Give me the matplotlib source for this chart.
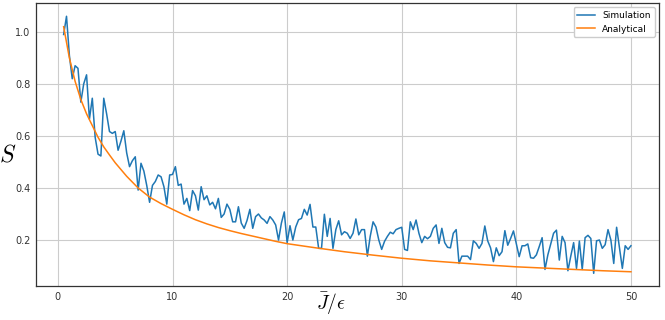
import numpy as np
import matplotlib
matplotlib.use("Agg")
import matplotlib.pyplot as plt

plt.rcParams['mathtext.fontset'] = 'cm'

# Simulation values, x from 0.5 to 50 in steps of 0.25
sim = [
    0.99, 1.06, 0.91, 0.82, 0.87, 0.86, 0.73, 0.80, 0.835, 0.665, 0.745, 0.595,
    0.53, 0.523, 0.745, 0.685, 0.617, 0.61, 0.617, 0.545, 0.58, 0.62, 0.535, 0.482,
    0.505, 0.52, 0.392, 0.495, 0.465, 0.41, 0.345, 0.41, 0.425, 0.45, 0.443, 0.405,
    0.338, 0.45, 0.452, 0.482, 0.41, 0.415, 0.338, 0.36, 0.313, 0.39, 0.37, 0.315,
    0.405, 0.355, 0.37, 0.335, 0.345, 0.32, 0.36, 0.287, 0.30, 0.338, 0.318, 0.27,
    0.27, 0.328, 0.265, 0.245, 0.275, 0.318, 0.245, 0.29, 0.30, 0.285, 0.277, 0.264,
    0.29, 0.277, 0.258, 0.20, 0.265, 0.308, 0.19, 0.255, 0.20, 0.25, 0.278, 0.283,
    0.318, 0.296, 0.337, 0.25, 0.25, 0.168, 0.168, 0.299, 0.214, 0.283, 0.168, 0.24,
    0.274, 0.22, 0.232, 0.226, 0.206, 0.226, 0.281, 0.22, 0.24, 0.24, 0.138, 0.214,
    0.27, 0.25, 0.20, 0.164, 0.195, 0.214, 0.23, 0.224, 0.24, 0.245, 0.249, 0.164,
    0.16, 0.27, 0.24, 0.277, 0.226, 0.19, 0.214, 0.205, 0.214, 0.245, 0.258, 0.187,
    0.245, 0.19, 0.172, 0.17, 0.226, 0.24, 0.11, 0.138, 0.138, 0.138, 0.125, 0.197,
    0.187, 0.168, 0.187, 0.254, 0.197, 0.17, 0.117, 0.17, 0.14, 0.155, 0.236, 0.18,
    0.206, 0.235, 0.185, 0.136, 0.178, 0.178, 0.185, 0.132, 0.13, 0.143, 0.175, 0.209,
    0.087, 0.143, 0.185, 0.226, 0.238, 0.123, 0.214, 0.19, 0.082, 0.138, 0.19, 0.091,
    0.196, 0.087, 0.209, 0.218, 0.206, 0.072, 0.197, 0.20, 0.168, 0.182, 0.24, 0.20,
    0.11, 0.249, 0.17, 0.091, 0.178, 0.164, 0.178,
]

# Analytical curve, read at selected points
ana_x = [0.5, 1.0, 1.5, 2.0, 2.5, 3.0, 3.5, 4.0, 4.5, 5.0, 6.0, 7.0, 8.0, 9.0,
         10.0, 11.0, 12.0, 13.0, 14.0, 15.0, 16.0, 17.0, 18.0, 19.0, 20.0,
         22.5, 25.0, 27.5, 30.0, 32.5, 35.0, 37.5, 40.0, 42.5, 45.0, 47.5, 50.0]
ana_y = [1.02, 0.90, 0.81, 0.74, 0.685, 0.64, 0.595, 0.558, 0.527, 0.497, 0.445,
         0.40, 0.365, 0.34, 0.318, 0.297, 0.278, 0.262, 0.248, 0.236, 0.225,
         0.215, 0.205, 0.195, 0.186, 0.17, 0.155, 0.142, 0.13, 0.12, 0.112,
         0.104, 0.097, 0.092, 0.087, 0.082, 0.078]

xticks = [0, 10, 20, 30, 40, 50]
yticks = [0.2, 0.4, 0.6, 0.8, 1.0]

sim_x = np.linspace(0.5, 50, len(sim))

fig = plt.figure(figsize=(6.65, 3.2), dpi=100)
ax = fig.add_axes([0.054, 0.106, 0.937, 0.885])
ax.plot(sim_x, sim, color='#1f77b4', lw=1.1, label='Simulation')
ax.plot(ana_x, ana_y, color='#ff7f0e', lw=1.1, label='Analytical')
ax.set_xlim(-1.92, 52.45)
ax.set_ylim(0.023, 1.1115)
ax.set_xticks(xticks)
ax.set_yticks(yticks)
ax.grid(True, color='#cccccc', lw=0.8)
ax.tick_params(labelsize=7, length=0, pad=4, colors='#333333')
for s in ax.spines.values():
    s.set_color('#333333')
    s.set_linewidth(0.9)
ax.set_xlabel(r'$\bar{J}/\epsilon$', fontsize=14)
ax.xaxis.set_label_coords(0.474, -0.016)
ax.set_ylabel(r'$S$', fontsize=17, rotation=0, ha='center', va='center')
ax.yaxis.set_label_coords(-0.045, 0.463)
ax.legend(loc='upper right', fontsize=6.5, framealpha=1)
fig.savefig('out.png', dpi=100)
